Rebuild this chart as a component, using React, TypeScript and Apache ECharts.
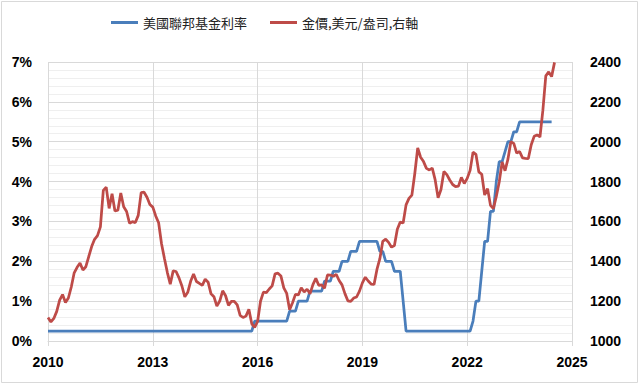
import React, { useEffect, useRef } from "react";
import * as echarts from "echarts";

// Monthly data, Jan 2010 .. (fed: Jun 2024, gold: Jul 2024)
const startYear = 2010;

const gold2010 = [1118.0, 1095.4, 1113.3, 1148.7, 1205.4, 1232.9, 1193.0, 1215.8, 1271.0, 1342.0, 1369.9, 1390.6];
const gold2011 = [1356.4, 1372.7, 1424.0, 1473.8, 1510.4, 1528.7, 1572.8, 1755.8, 1771.9, 1665.2, 1739.0, 1652.3];
const gold2012 = [1656.1, 1742.6, 1673.8, 1649.7, 1591.2, 1598.8, 1594.3, 1630.3, 1744.8, 1746.6, 1721.6, 1684.8];
const gold2013 = [1671.9, 1627.6, 1593.1, 1487.9, 1414.0, 1343.4, 1285.5, 1351.7, 1348.6, 1316.6, 1275.9, 1221.5];
const gold2014 = [1244.3, 1299.6, 1336.1, 1298.5, 1288.7, 1279.1, 1310.6, 1295.1, 1236.6, 1222.5, 1175.3, 1200.6];
const gold2015 = [1251.9, 1227.1, 1178.6, 1198.9, 1198.6, 1181.5, 1128.3, 1117.9, 1124.8, 1159.3, 1086.4, 1068.3];
const gold2016 = [1097.9, 1199.5, 1245.1, 1242.3, 1261.0, 1276.4, 1336.7, 1340.2, 1326.6, 1266.6, 1238.4, 1157.4];
const gold2017 = [1192.1, 1234.2, 1231.1, 1266.9, 1246.0, 1260.3, 1236.8, 1283.0, 1314.1, 1279.5, 1281.9, 1264.5];
const gold2018 = [1331.3, 1330.7, 1324.7, 1334.8, 1303.5, 1281.6, 1237.7, 1201.7, 1198.4, 1215.4, 1220.7, 1250.4];
const gold2019 = [1291.8, 1320.1, 1300.9, 1285.9, 1283.7, 1359.0, 1412.9, 1500.4, 1510.6, 1494.8, 1470.8, 1479.1];
const gold2020 = [1560.7, 1597.1, 1591.9, 1683.2, 1715.9, 1732.2, 1840.4, 1968.6, 1921.9, 1900.3, 1866.3, 1858.4];
const gold2021 = [1867.2, 1808.2, 1718.2, 1760.0, 1850.3, 1834.6, 1807.8, 1785.3, 1775.1, 1776.8, 1821.4, 1790.5];
const gold2022 = [1816.0, 1856.3, 1947.8, 1936.9, 1848.5, 1836.6, 1732.7, 1764.6, 1680.6, 1664.5, 1725.1, 1797.6];
const gold2023 = [1897.9, 1854.6, 1912.7, 1999.5, 1991.7, 1942.9, 1951.0, 1918.7, 1916.9, 1915.7, 1985.0, 2026.9];
const gold2024 = [2034.0, 2023.7, 2158.1, 2330.5, 2350.1, 2326.5, 2398.2];

const fed2010 = [0.25, 0.25, 0.25, 0.25, 0.25, 0.25, 0.25, 0.25, 0.25, 0.25, 0.25, 0.25];
const fed2011 = [0.25, 0.25, 0.25, 0.25, 0.25, 0.25, 0.25, 0.25, 0.25, 0.25, 0.25, 0.25];
const fed2012 = [0.25, 0.25, 0.25, 0.25, 0.25, 0.25, 0.25, 0.25, 0.25, 0.25, 0.25, 0.25];
const fed2013 = [0.25, 0.25, 0.25, 0.25, 0.25, 0.25, 0.25, 0.25, 0.25, 0.25, 0.25, 0.25];
const fed2014 = [0.25, 0.25, 0.25, 0.25, 0.25, 0.25, 0.25, 0.25, 0.25, 0.25, 0.25, 0.25];
const fed2015 = [0.25, 0.25, 0.25, 0.25, 0.25, 0.25, 0.25, 0.25, 0.25, 0.25, 0.25, 0.5];
const fed2016 = [0.5, 0.5, 0.5, 0.5, 0.5, 0.5, 0.5, 0.5, 0.5, 0.5, 0.5, 0.75];
const fed2017 = [0.75, 0.75, 1.0, 1.0, 1.0, 1.0, 1.25, 1.25, 1.25, 1.25, 1.25, 1.5];
const fed2018 = [1.5, 1.5, 1.75, 1.75, 1.75, 2.0, 2.0, 2.0, 2.25, 2.25, 2.25, 2.5];
const fed2019 = [2.5, 2.5, 2.5, 2.5, 2.5, 2.5, 2.25, 2.25, 2.0, 2.0, 2.0, 1.75];
const fed2020 = [1.75, 1.75, 1.0, 0.25, 0.25, 0.25, 0.25, 0.25, 0.25, 0.25, 0.25, 0.25];
const fed2021 = [0.25, 0.25, 0.25, 0.25, 0.25, 0.25, 0.25, 0.25, 0.25, 0.25, 0.25, 0.25];
const fed2022 = [0.25, 0.25, 0.5, 1.0, 1.0, 1.75, 2.5, 2.5, 3.25, 3.25, 4.0, 4.5];
const fed2023 = [4.5, 4.75, 5.0, 5.0, 5.25, 5.25, 5.5, 5.5, 5.5, 5.5, 5.5, 5.5];
const fed2024 = [5.5, 5.5, 5.5, 5.5, 5.5, 5.5];

const goldMonthly = [
  ...gold2010, ...gold2011, ...gold2012, ...gold2013, ...gold2014, ...gold2015, ...gold2016, ...gold2017,
  ...gold2018, ...gold2019, ...gold2020, ...gold2021, ...gold2022, ...gold2023, ...gold2024,
];
const fedMonthly = [
  ...fed2010, ...fed2011, ...fed2012, ...fed2013, ...fed2014, ...fed2015, ...fed2016, ...fed2017,
  ...fed2018, ...fed2019, ...fed2020, ...fed2021, ...fed2022, ...fed2023, ...fed2024,
];

const seriesNames = ["美國聯邦基金利率", "金價,美元/盎司,右軸"];
const xMin = 2010;
const xMax = 2025;
const xStep = 3;

const toPairs = (arr: number[]) => arr.map((v, i) => [startYear + i / 12, v]);

export default function App() {
  const ref = useRef<HTMLDivElement>(null);
  useEffect(() => {
    if (!ref.current) return;
    const chart = echarts.init(ref.current, undefined, { renderer: "svg" });
    const labelFont = "'Liberation Sans', Arial, sans-serif";
    const grid = "#d9d9d9";
    chart.setOption({
      animation: false,
      backgroundColor: "#ffffff",
      graphic: [
        {
          type: "rect",
          shape: { x: 1.5, y: 1.5, width: 636, height: 381 },
          style: { fill: "none", stroke: "#d9d9d9", lineWidth: 1 },
          silent: true,
        },
      ],
      legend: {
        left: 111,
        top: 16,
        padding: 0,
        icon: "rect",
        itemWidth: 27,
        itemHeight: 3,
        itemGap: 23,
        data: seriesNames,
        textStyle: { fontSize: 13, color: "#222", fontFamily: "'Noto Sans CJK TC', sans-serif" },
      },
      grid: { left: 48, right: 68, top: 62, bottom: 45 },
      xAxis: {
        type: "value",
        min: xMin,
        max: xMax,
        interval: xStep,
        axisLine: { show: true, lineStyle: { color: grid } },
        axisTick: { show: true, length: 5, lineStyle: { color: grid } },
        splitLine: { show: true, lineStyle: { color: grid, width: 1 } },
        axisLabel: {
          margin: 14,
          fontSize: 14,
          fontWeight: "bold",
          color: "#000",
          fontFamily: labelFont,
          formatter: (v: number) => String(v),
        },
      },
      yAxis: [
        {
          type: "value",
          min: 0,
          max: 7,
          interval: 1,
          axisLine: { show: false },
          axisTick: { show: false },
          splitLine: { show: true, lineStyle: { color: grid, width: 1 } },
          minorTick: { show: false, splitNumber: 5 },
          minorSplitLine: { show: true, lineStyle: { color: "#efefef", width: 1 } },
          axisLabel: {
            margin: 16,
            fontSize: 14,
            fontWeight: "bold",
            color: "#000",
            fontFamily: labelFont,
            formatter: (v: number) => `${v}%`,
          },
        },
        {
          type: "value",
          position: "right",
          min: 1000,
          max: 2400,
          interval: 200,
          axisLine: { show: false },
          axisTick: { show: false },
          splitLine: { show: false },
          axisLabel: {
            margin: 18,
            fontSize: 14,
            fontWeight: "bold",
            color: "#000",
            fontFamily: labelFont,
            formatter: (v: number) => String(v),
          },
        },
      ],
      series: [
        {
          name: seriesNames[0],
          type: "line",
          yAxisIndex: 0,
          data: toPairs(fedMonthly),
          symbol: "none",
          lineStyle: { color: "#4A7EBB", width: 2.75 },
          itemStyle: { color: "#4A7EBB" },
        },
        {
          name: seriesNames[1],
          type: "line",
          yAxisIndex: 1,
          data: toPairs(goldMonthly),
          symbol: "none",
          lineStyle: { color: "#BE4B48", width: 2.75 },
          itemStyle: { color: "#BE4B48" },
        },
      ],
    });
    return () => chart.dispose();
  }, []);
  return (
    <div style={{ position: "fixed", left: 0, top: 0, width: 640, height: 386, background: "#fff" }}>
      <div ref={ref} style={{ width: 640, height: 386 }} />
    </div>
  );
}
